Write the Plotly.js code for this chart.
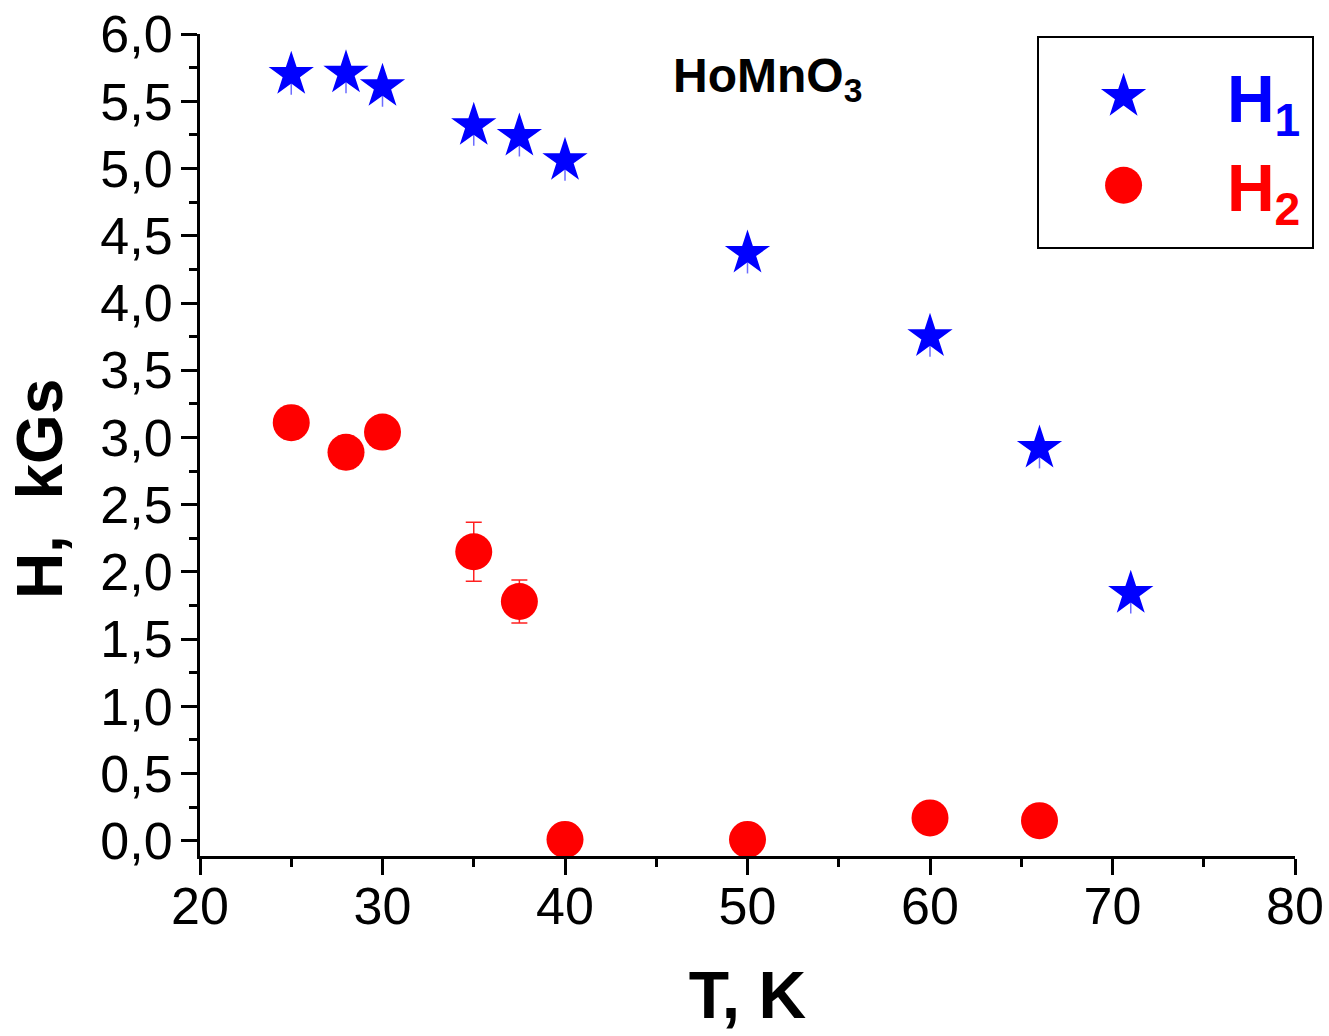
<!DOCTYPE html>
<html>
<head>
<meta charset="utf-8">
<script src="https://cdn.plot.ly/plotly-3.0.1.min.js"></script>
<style>html,body{margin:0;padding:0;background:#fff;}#chart{width:1329px;height:1036px;}</style>
</head>
<body>
<div id="chart"></div>
<script>
// Data
const T1 = [25, 28, 30, 35, 37.5, 40, 50, 60, 66, 71];
const H1 = [5.70, 5.71, 5.61, 5.32, 5.24, 5.06, 4.37, 3.75, 2.92, 1.84];
const H1err = [0.15, 0.15, 0.15, 0.15, 0.15, 0.15, 0.15, 0.15, 0.15, 0.15];
const T2 = [25, 28, 30, 35, 37.5, 40, 50, 60, 66];
const H2 = [3.11, 2.89, 3.04, 2.15, 1.78, 0.01, 0.01, 0.17, 0.15];
const H2err = [0.12, 0.12, 0.12, 0.22, 0.16, 0.0, 0.0, 0.11, 0.11];
const seriesNames = ['H<sub>1</sub>', 'H<sub>2</sub>'];
const chartLabel = 'HoMnO<sub>3</sub>';
const xTitle = 'T, K';
const yTitle = 'H,\u00a0 kGs';

const FONT = 'Liberation Sans, Arial, sans-serif';
const NB = '\u00a0';

const traces = [
  {
    x: T1, y: H1, type: 'scatter', mode: 'markers',
    name: '<span style="color:#0000ff">' + NB + seriesNames[0] + '\u200a</span>',
    marker: {symbol: 'star', size: 34, color: '#0000ff', line: {width: 0}},
    error_y: {type: 'data', array: H1err, visible: true, color: 'rgba(60,60,255,0.75)', thickness: 1.5, width: 0}
  },
  {
    x: T2, y: H2, type: 'scatter', mode: 'markers',
    name: '<span style="color:#ff0000">' + NB + seriesNames[1] + '\u200a</span>',
    marker: {symbol: 'circle', size: 37, color: '#ff0000', line: {width: 0}},
    error_y: {type: 'data', array: H2err, visible: true, color: '#ff2020', thickness: 1.5, width: 8}
  }
];

const layout = {
  width: 1329, height: 1036,
  margin: {l: 200, r: 34, t: 34, b: 180, autoexpand: false},
  paper_bgcolor: '#fff', plot_bgcolor: '#fff',
  separators: ', ',
  font: {family: FONT, color: '#000'},
  showlegend: true,
  xaxis: {
    range: [20, 80], dtick: 10, tick0: 20,
    showline: true, linecolor: '#000', linewidth: 3,
    ticks: 'outside', ticklen: 16, tickwidth: 3, tickcolor: '#000',
    minor: {dtick: 5, ticks: 'outside', ticklen: 8, tickwidth: 3, tickcolor: '#000'},
    showgrid: false, zeroline: false, mirror: false,
    tickfont: {size: 52, family: FONT},
    ticklabelstandoff: -13,
    title: {text: '<b>' + xTitle + '</b>', font: {size: 66, family: FONT}, standoff: 38}
  },
  yaxis: {
    range: [-0.113, 6.001], dtick: 0.5, tick0: 0, tickformat: '.1f',
    showline: true, linecolor: '#000', linewidth: 3,
    ticks: 'outside', ticklen: 16, tickwidth: 3, tickcolor: '#000',
    minor: {dtick: 0.25, ticks: 'outside', ticklen: 8, tickwidth: 3, tickcolor: '#000'},
    showgrid: false, zeroline: false, mirror: false,
    tickfont: {size: 52, family: FONT},
    ticklabelstandoff: -2,
    title: {text: ''}
  },
  legend: {
    x: 0.764, y: 0.9976, xanchor: 'left', yanchor: 'top',
    bgcolor: '#fff', bordercolor: '#000', borderwidth: 2,
    font: {size: 66, family: FONT, weight: 'bold'},
    title: {text: NB, font: {size: 7}},
    itemwidth: 160
  },
  annotations: [
    {
      text: '<b>' + chartLabel + '</b>', xref: 'paper', yref: 'paper',
      x: 0.518, y: 0.945, xanchor: 'center', yanchor: 'middle',
      showarrow: false, font: {size: 48, family: FONT}
    },
    {
      text: '<b>' + yTitle + '</b>', xref: 'paper', yref: 'paper',
      x: -0.146, y: 0.4465, xanchor: 'center', yanchor: 'middle', textangle: -90,
      showarrow: false, font: {size: 64, family: FONT}
    }
  ]
};

Plotly.newPlot('chart', traces, layout, {displayModeBar: false, staticPlot: true}).then(function (gd) {
  // enlarge legend keys to match the trace marker sizes (Plotly caps them at 16px)
  const pts = gd.querySelectorAll('.legend .legendpoints path.scatterpts');
  pts.forEach(function (p, i) {
    const tr = gd._fullData[i];
    const s = tr.marker.size / 16;
    const t = p.getAttribute('transform') || '';
    p.setAttribute('transform', t + ' scale(' + s + ')');
  });
  // extend legend frame down to the reference's box height
  const bg = gd.querySelector('.legend rect.bg');
  if (bg) {
    const h = parseFloat(bg.getAttribute('height'));
    bg.setAttribute('height', Math.max(h, 211));
  }
});
</script>
</body>
</html>
